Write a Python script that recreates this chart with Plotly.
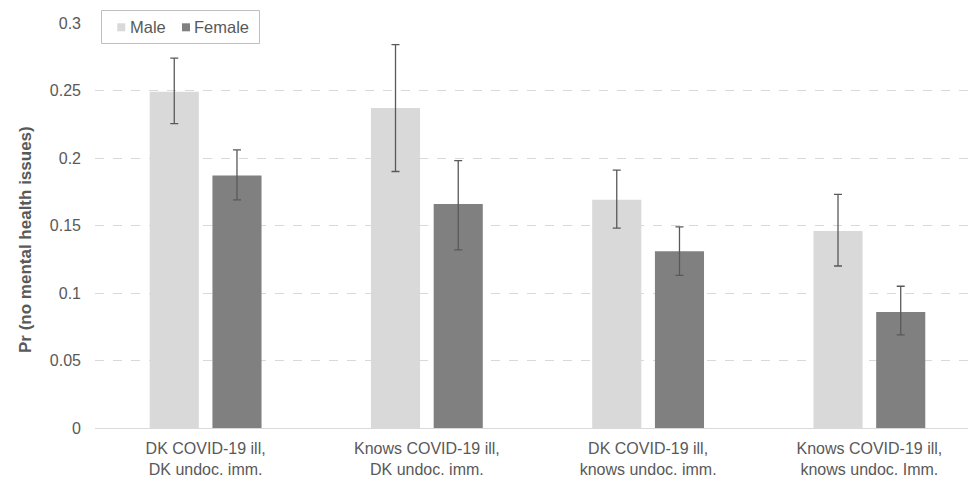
import plotly.graph_objects as go

categories = [
    "DK COVID-19 ill,<br>DK undoc. imm.",
    "Knows COVID-19 ill,<br>DK undoc. imm.",
    "DK COVID-19 ill,<br>knows undoc. imm.",
    "Knows COVID-19 ill,<br>knows undoc. Imm.",
]
series_names = ["Male", "Female"]
series_colors = ["#d9d9d9", "#808080"]
male = [0.249, 0.237, 0.169, 0.146]
male_hi = [0.274, 0.284, 0.191, 0.173]
male_lo = [0.2255, 0.190, 0.148, 0.120]
female = [0.187, 0.166, 0.131, 0.086]
female_hi = [0.206, 0.198, 0.149, 0.105]
female_lo = [0.169, 0.132, 0.113, 0.069]
y_ticks = [0, 0.05, 0.1, 0.15, 0.2, 0.25, 0.3]
y_ticktext = ["0", "0.05", "0.1", "0.15", "0.2", "0.25", "0.3"]

x = list(range(len(categories)))
grey = "#595959"
FONT = "Liberation Sans, Arial, sans-serif"

def err(vals, hi, lo):
    return dict(
        type="data",
        array=[h - v for h, v in zip(hi, vals)],
        arrayminus=[v - l for v, l in zip(vals, lo)],
        color=grey,
        thickness=1.3,
        width=4,
    )

fig = go.Figure()
fig.add_trace(go.Bar(x=x, y=male, name=series_names[0], showlegend=False,
                     marker=dict(color=series_colors[0], line=dict(width=0)),
                     error_y=err(male, male_hi, male_lo)))
fig.add_trace(go.Bar(x=x, y=female, name=series_names[1], showlegend=False,
                     marker=dict(color=series_colors[1], line=dict(width=0)),
                     error_y=err(female, female_hi, female_lo)))

# page body adds an 8px offset; figure sized to fill the rest of the window
OFF = 8
W, H = 976 - OFF, 481 - OFF
L = 95 - OFF
PLOT_TOP = 23 - OFF
PLOT_BOTTOM = 428 - OFF
B = H - PLOT_BOTTOM
paper_h = H - B
paper_w = W - L

def px(v):  # window pixel x -> paper x
    return (v - OFF - L) / paper_w

def py(v):  # window pixel y -> paper y
    return (paper_h - (v - OFF)) / paper_h

# legend (drawn as box + swatches + text labels)
shapes = [dict(type="rect", xref="paper", yref="paper",
               x0=px(101.5), x1=px(259.5), y0=py(43.5), y1=py(10.5),
               line=dict(color="#bfbfbf", width=1), fillcolor="white", layer="above")]
annotations = []
leg_sw_x = [117.3, 182]
leg_tx_x = [129, 193]
for name, col, sx, tx in zip(series_names, series_colors, leg_sw_x, leg_tx_x):
    shapes.append(dict(type="rect", xref="paper", yref="paper",
                       x0=px(sx), x1=px(sx + 8), y0=py(31.3), y1=py(23.3),
                       line=dict(width=0), fillcolor=col, layer="above"))
    annotations.append(dict(text=name, xref="paper", yref="paper", x=px(tx), y=py(27),
                            xanchor="left", yanchor="middle", showarrow=False, borderpad=0,
                            font=dict(family=FONT, size=16.5, color=grey)))

annotations.append(dict(
    text="<b>Pr (no mental health issues)</b>", textangle=-90,
    xref="paper", yref="paper", x=px(25), y=py(240),
    xanchor="center", yanchor="middle", showarrow=False,
    font=dict(family=FONT, size=17, color=grey),
))

fig.update_layout(
    width=W, height=H,
    margin=dict(l=L, r=0, t=0, b=B, autoexpand=False),
    paper_bgcolor="white", plot_bgcolor="white",
    barmode="group", bargap=0.433, bargroupgap=0.217,
    font=dict(family=FONT, size=16, color=grey),
    showlegend=False,
    xaxis=dict(
        tickmode="array", tickvals=x, ticktext=categories,
        range=[-0.5, 3.482], showgrid=False, showline=False, zeroline=False,
        ticks="", tickfont=dict(size=16, color=grey), automargin=False,
        ticklabelstandoff=9,
    ),
    yaxis=dict(
        domain=[0, (paper_h - PLOT_TOP) / paper_h],
        range=[0, 0.3], tickmode="array",
        tickvals=y_ticks, ticktext=y_ticktext,
        showgrid=True, gridcolor="#d9d9d9", griddash="dash", gridwidth=1,
        zeroline=True, zerolinecolor="#d9d9d9", zerolinewidth=1,
        showline=False, ticks="", ticklabelstandoff=13,
        tickfont=dict(size=16, color=grey), automargin=False,
    ),
    shapes=shapes,
    annotations=annotations,
)

fig.write_html("out.html")
